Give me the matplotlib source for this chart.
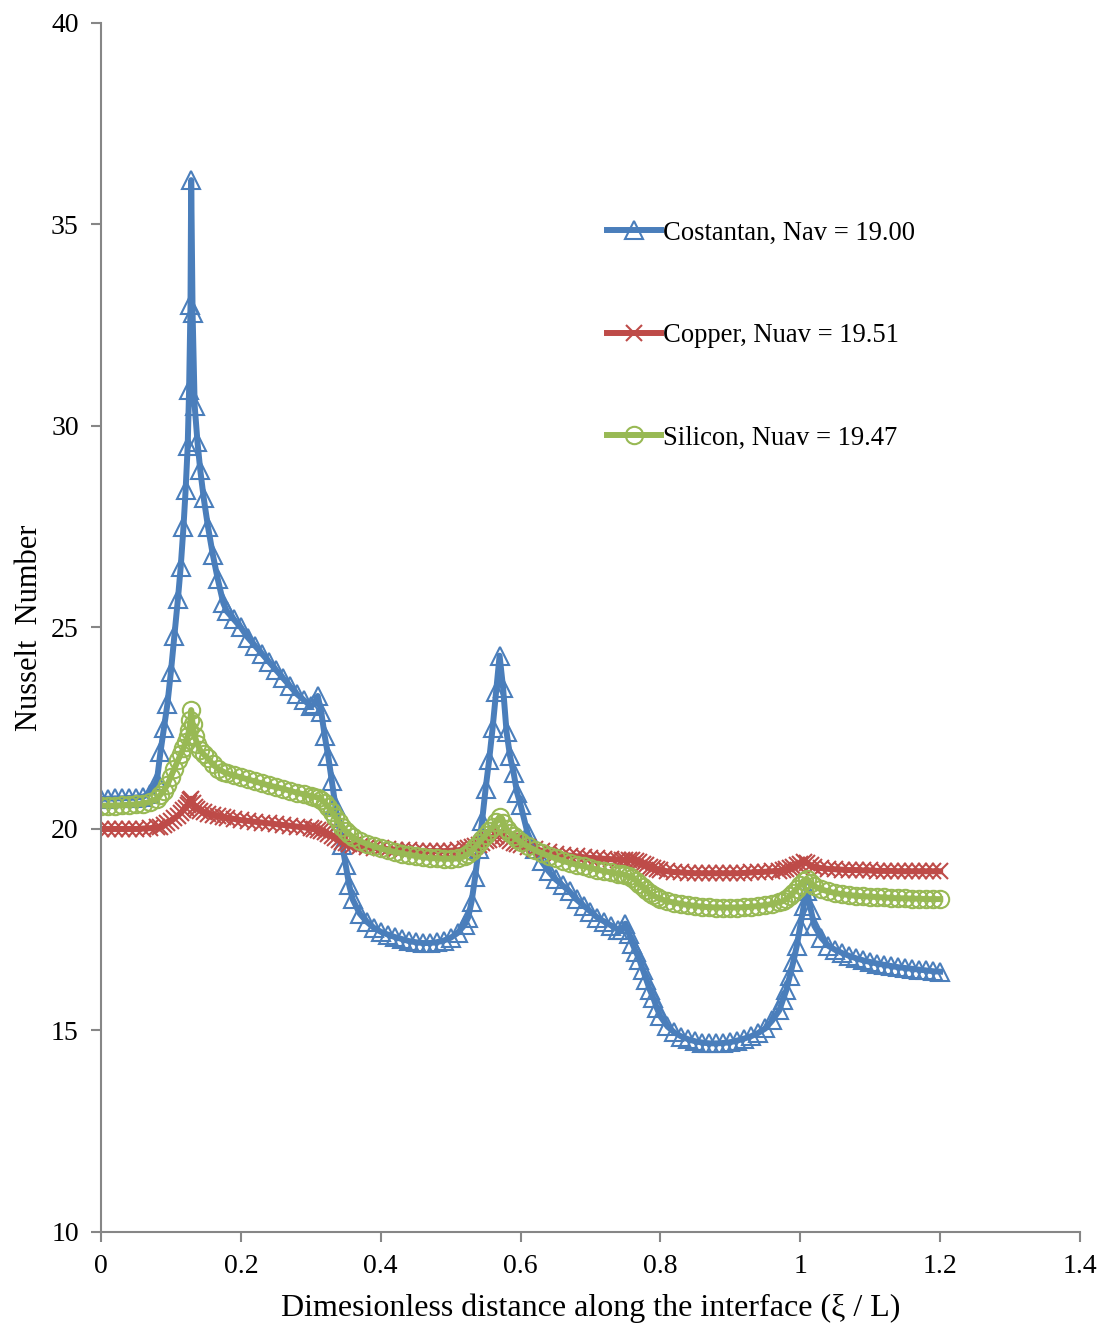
import matplotlib
matplotlib.use("Agg")
import matplotlib.pyplot as plt

# dimensionless position along the interface (xi / L)
xi = [0.0, 0.01, 0.02, 0.03, 0.04, 0.05, 0.06, 0.07, 0.08,
      0.085, 0.09, 0.095, 0.10, 0.105, 0.11, 0.114, 0.118, 0.121, 0.124, 0.126, 0.128, 0.129,
      0.131, 0.134, 0.138, 0.142, 0.147, 0.153, 0.16, 0.167, 0.175, 0.18,
      0.19, 0.20, 0.21, 0.22, 0.23, 0.24, 0.25, 0.26, 0.27, 0.28, 0.29, 0.30,
      0.305, 0.31, 0.315, 0.32, 0.325, 0.33, 0.335, 0.34, 0.345, 0.35, 0.355, 0.36, 0.37, 0.38, 0.39, 0.40,
      0.41, 0.42, 0.43, 0.44, 0.45, 0.46, 0.47, 0.48, 0.49, 0.50, 0.51, 0.52,
      0.525, 0.53, 0.535, 0.54, 0.545, 0.55, 0.555, 0.56, 0.565, 0.57,
      0.575, 0.58, 0.585, 0.59, 0.595, 0.60, 0.61, 0.62, 0.63, 0.64, 0.65,
      0.66, 0.67, 0.68, 0.69, 0.70, 0.71, 0.72, 0.73, 0.74,
      0.745, 0.75, 0.755, 0.76, 0.765, 0.77, 0.775, 0.78, 0.785, 0.79, 0.795, 0.80,
      0.81, 0.82, 0.83, 0.84, 0.85, 0.86, 0.87, 0.88, 0.89, 0.90, 0.91, 0.92, 0.93, 0.94, 0.95,
      0.96, 0.97, 0.975, 0.98, 0.985, 0.99, 0.995, 1.0, 1.005, 1.01, 1.015, 1.02, 1.03, 1.04, 1.05,
      1.06, 1.07, 1.08, 1.09, 1.10, 1.11, 1.12, 1.13, 1.14, 1.15, 1.16, 1.17, 1.18, 1.19, 1.20]

nu_costantan = [20.75, 20.75, 20.76, 20.76, 20.77, 20.78, 20.8, 20.88, 21.2,
                21.9, 22.5, 23.1, 23.9, 24.8, 25.7, 26.5, 27.5, 28.4, 29.5, 30.9, 33.0, 36.1,
                32.8, 30.5, 29.6, 28.9, 28.2, 27.5, 26.8, 26.2, 25.6, 25.4,
                25.2, 25.0, 24.75, 24.55, 24.35, 24.15, 23.95, 23.75, 23.55, 23.35, 23.2, 23.05,
                23.1, 23.3, 22.9, 22.3, 21.8, 21.2, 20.6, 20.1, 19.6, 19.1, 18.6, 18.25, 17.9, 17.7, 17.55, 17.45,
                17.38, 17.32, 17.27, 17.22, 17.19, 17.17, 17.17, 17.19, 17.23, 17.3, 17.42, 17.62,
                17.8, 18.2, 18.8, 19.5, 20.2, 21.0, 21.7, 22.5, 23.4, 24.3,
                23.5, 22.4, 21.8, 21.4, 20.9, 20.6, 19.9, 19.5, 19.2, 18.95, 18.75,
                18.6, 18.45, 18.25, 18.1, 17.95, 17.8, 17.7, 17.6, 17.5,
                17.5, 17.65, 17.4, 17.15, 16.95, 16.75, 16.5, 16.25, 16.0, 15.8, 15.55, 15.35,
                15.1, 14.95, 14.85, 14.78, 14.73, 14.7, 14.68, 14.68, 14.69, 14.71, 14.75, 14.8, 14.86, 14.94, 15.05,
                15.25, 15.5, 15.75, 16.0, 16.35, 16.7, 17.1, 17.6, 18.1, 18.45, 18.0, 17.6, 17.3, 17.1, 17.0,
                16.92, 16.85, 16.79, 16.74, 16.7, 16.66, 16.63, 16.6, 16.57, 16.55, 16.53, 16.51, 16.49, 16.47, 16.46]

nu_copper = [20.0, 20.0, 20.0, 20.0, 20.0, 20.0, 20.01, 20.02, 20.04,
             20.06, 20.1, 20.14, 20.2, 20.26, 20.33, 20.4, 20.47, 20.53, 20.6, 20.65, 20.72, 20.75,
             20.65, 20.55, 20.5, 20.45, 20.42, 20.38, 20.35, 20.32, 20.3, 20.28,
             20.25, 20.22, 20.2, 20.18, 20.16, 20.14, 20.12, 20.1, 20.08, 20.06, 20.04, 20.02,
             20.0, 19.98, 19.95, 19.92, 19.88, 19.83, 19.77, 19.72, 19.68, 19.65, 19.62, 19.6, 19.57, 19.55, 19.53, 19.52,
             19.5, 19.49, 19.48, 19.47, 19.46, 19.45, 19.45, 19.45, 19.45, 19.46, 19.47, 19.5,
             19.52, 19.55, 19.58, 19.61, 19.65, 19.69, 19.73, 19.78, 19.83, 19.88,
             19.82, 19.75, 19.7, 19.66, 19.63, 19.6, 19.55, 19.5, 19.46, 19.42, 19.39,
             19.36, 19.34, 19.32, 19.3, 19.28, 19.27, 19.26, 19.25, 19.24,
             19.23, 19.23, 19.23, 19.22, 19.2, 19.17, 19.13, 19.1, 19.06, 19.03, 19.0, 18.98,
             18.95, 18.93, 18.92, 18.91, 18.9, 18.9, 18.9, 18.9, 18.9, 18.9, 18.9, 18.91, 18.92, 18.93, 18.94,
             18.95, 18.96, 18.98, 19.0, 19.03, 19.06, 19.1, 19.14, 19.17, 19.15, 19.1, 19.06, 19.03, 19.01, 19.0,
             18.99, 18.98, 18.98, 18.97, 18.97, 18.96, 18.96, 18.96, 18.95, 18.95, 18.95, 18.95, 18.95, 18.95, 18.95]

nu_silicon = [20.58, 20.58, 20.58, 20.59, 20.6, 20.61, 20.63, 20.67, 20.75,
              20.85, 20.95, 21.1, 21.3, 21.5, 21.7, 21.85, 22.0, 22.15, 22.3, 22.45, 22.7, 22.95,
              22.6, 22.3, 22.1, 21.95, 21.85, 21.75, 21.6, 21.5, 21.42, 21.38,
              21.33, 21.28, 21.23, 21.18, 21.13, 21.08, 21.04, 21.0, 20.95, 20.9, 20.86, 20.82,
              20.8, 20.78, 20.73, 20.65, 20.55, 20.43, 20.3, 20.17, 20.05, 19.95, 19.87, 19.8, 19.7, 19.63, 19.57, 19.52,
              19.47, 19.43, 19.39, 19.36, 19.33, 19.3, 19.28, 19.27, 19.26, 19.26, 19.27, 19.32,
              19.38, 19.45, 19.55, 19.65, 19.75, 19.85, 19.95, 20.05, 20.18, 20.3,
              20.15, 20.0, 19.9, 19.82, 19.75, 19.68, 19.57, 19.48, 19.4, 19.33, 19.27,
              19.21, 19.16, 19.11, 19.07, 19.03, 18.99, 18.95, 18.92, 18.89,
              18.88, 18.86, 18.83, 18.78, 18.72, 18.64, 18.56, 18.48, 18.41, 18.35, 18.3, 18.26,
              18.21, 18.17, 18.14, 18.11, 18.09, 18.07, 18.06, 18.05, 18.05, 18.05, 18.05, 18.06, 18.07, 18.09, 18.11,
              18.14, 18.18, 18.21, 18.26, 18.33, 18.42, 18.52, 18.62, 18.72, 18.75, 18.65, 18.58, 18.5, 18.45, 18.41,
              18.38, 18.36, 18.34, 18.33, 18.32, 18.31, 18.3, 18.29, 18.28, 18.28, 18.27, 18.27, 18.26, 18.26, 18.26]

labels = ["Costantan, Nav = 19.00", "Copper, Nuav = 19.51", "Silicon, Nuav = 19.47"]

plt.rcParams['font.family'] = ['Liberation Serif', 'DejaVu Serif']

fig = plt.figure(figsize=(11.06, 13.26), dpi=100)
ax = fig.add_axes([0.0913, 0.0709, 0.8852, 0.9118])

ax.plot(xi, nu_costantan, color='#4A7EBB', lw=4.3, marker='^', ms=12.5,
        mfc='none', mec='#4A7EBB', mew=1.5, solid_joinstyle='round', label=labels[0])
ax.plot(xi, nu_copper, color='#BE4B48', lw=4.3, marker='x', ms=11.5,
        mec='#BE4B48', mew=1.5, solid_joinstyle='round', label=labels[1])
ax.plot(xi, nu_silicon, color='#98B954', lw=4.3, marker='o', ms=12.5,
        mfc='none', mec='#98B954', mew=1.5, solid_joinstyle='round', label=labels[2])

ax.set_xlim(0, 1.4)
ax.set_ylim(10, 40)
ax.set_xticks([0, 0.2, 0.4, 0.6, 0.8, 1.0, 1.2, 1.4])
ax.set_xticklabels(["0", "0.2", "0.4", "0.6", "0.8", "1", "1.2", "1.4"])
ax.set_yticks([10, 15, 20, 25, 30, 35, 40])

for s in ['top', 'right']:
    ax.spines[s].set_visible(False)
for s in ['left', 'bottom']:
    ax.spines[s].set_color('#868686')
    ax.spines[s].set_linewidth(1.5)
ax.tick_params(axis='both', direction='out', length=7, width=1.5, color='#868686',
               labelsize=20, pad=9)

ax.set_xlabel("Dimesionless distance along the interface (\u03be / L)", fontsize=23, labelpad=10)
ax.set_ylabel("Nusselt  Number", fontsize=22, labelpad=5)

ax.legend(loc='upper left', bbox_to_anchor=(0.549, 0.8335), bbox_transform=fig.transFigure,
          frameon=False, fontsize=19.2, handlelength=2.0, handletextpad=0.1,
          labelspacing=2.9, borderpad=0, borderaxespad=0)

fig.savefig("out.png", dpi=100)
